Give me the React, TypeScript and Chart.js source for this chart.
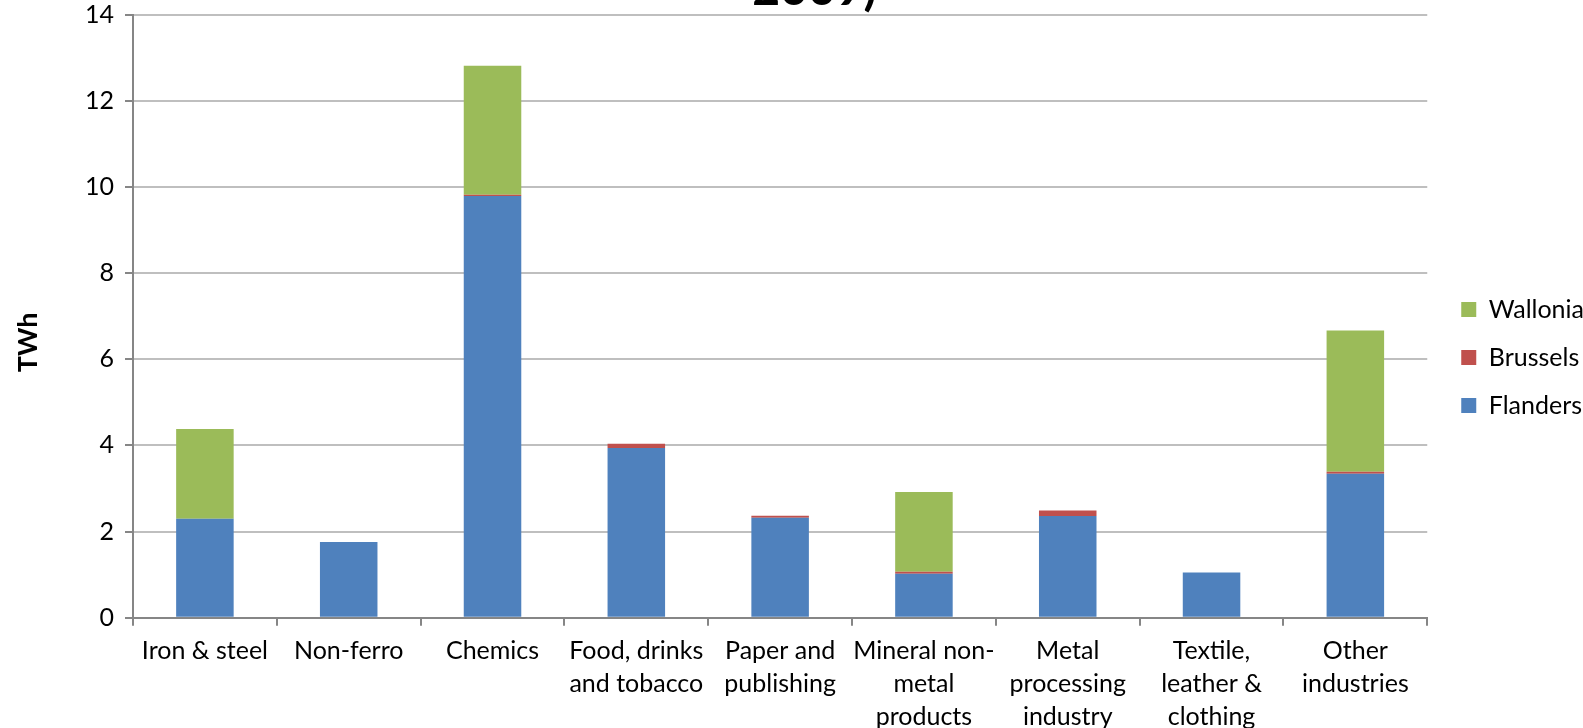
import React, { useEffect, useRef } from "react";
import { Chart, registerables } from "chart.js";

Chart.register(...registerables);

const categories: (string | string[])[] = [
  "Iron & steel",
  "Non-ferro",
  "Chemics",
  ["Food, drinks", "and tobacco"],
  ["Paper and", "publishing"],
  ["Mineral non-", "metal", "products"],
  ["Metal", "processing", "industry"],
  ["Textile,", "leather &", "clothing"],
  ["Other", "industries"],
];

const flanders = [2.3, 1.76, 9.79, 3.94, 2.32, 1.02, 2.36, 1.05, 3.34];
const brussels = [0, 0, 0.03, 0.1, 0.05, 0.05, 0.13, 0, 0.05];
const wallonia = [2.08, 0, 2.99, 0, 0, 1.85, 0, 0, 3.28];

const yTicks = [0, 2, 4, 6, 8, 10, 12, 14];

const titleText = "\u0020\u0020\u00202009)";
const yTitle = "TWh        ";

const FONT = "Lato";

export default function App() {
  const ref = useRef<HTMLCanvasElement | null>(null);

  useEffect(() => {
    if (!ref.current) return;
    const chart = new Chart(ref.current, {
      type: "bar",
      data: {
        labels: categories,
        datasets: [
          { label: "Flanders", data: flanders, backgroundColor: "#4F81BD", borderWidth: 0 },
          { label: "Brussels", data: brussels, backgroundColor: "#C0504D", borderWidth: 0 },
          { label: "Wallonia", data: wallonia, backgroundColor: "#9BBB59", borderWidth: 0 },
        ],
      },
      options: {
        responsive: false,
        animation: false,
        devicePixelRatio: 1,
        layout: { padding: { left: 0, right: -11, top: 0, bottom: 0 } },
        datasets: { bar: { barPercentage: 0.4, categoryPercentage: 1.0 } },
        plugins: {
          tooltip: { enabled: false },
          title: {
            display: true,
            text: titleText,
            color: "#000",
            font: { family: FONT, size: 48, weight: "bold", lineHeight: 1.0333 },
            padding: { top: 8, bottom: 0 },
          },
          legend: {
            display: true,
            position: "right",
            reverse: true,
            title: { display: true, text: " ", font: { size: 16, lineHeight: 1 }, padding: 0 },
            labels: {
              boxWidth: 15,
              boxHeight: 15,
              padding: 23,
              color: "#000",
              font: { family: FONT, size: 25 },
            },
          },
        },
        scales: {
          x: {
            stacked: true,
            grid: {
              display: true,
              drawOnChartArea: false,
              drawTicks: true,
              offset: true,
              tickLength: 8,
              color: "#868686",
              lineWidth: 2,
            },
            border: { display: true, color: "#868686", width: 2 },
            ticks: {
              autoSkip: false,
              maxRotation: 0,
              minRotation: 0,
              padding: 9,
              color: "#000",
              font: { family: FONT, size: 25, lineHeight: 1.31 },
            },
          },
          y: {
            stacked: true,
            min: 0,
            max: 14,
            afterFit: (s: any) => {
              s.width = 133;
            },
            afterBuildTicks: (s: any) => {
              s.ticks = yTicks.map((v) => ({ value: v }));
            },
            grid: {
              color: "#BFBFBF",
              lineWidth: 2,
              tickLength: 8,
              tickColor: "#868686",
              tickWidth: 2,
            },
            border: { display: true, color: "#868686", width: 2 },
            ticks: {
              padding: 11,
              color: "#000",
              font: { family: FONT, size: 25 },
            },
            title: {
              display: true,
              text: yTitle,
              color: "#000",
              font: { family: FONT, size: 27, weight: "bold", lineHeight: 1.2 },
              padding: { top: 12, bottom: 0 },
            },
          },
          gap: {
            type: "linear",
            position: "right",
            display: true,
            afterFit: (s: any) => {
              s.width = 11;
            },
            grid: { display: false },
            border: { display: false },
            ticks: { display: false },
          },
        },
      } as any,
    });
    return () => chart.destroy();
  }, []);

  return (
    <div
      style={{
        position: "fixed",
        top: 0,
        left: 0,
        width: 1583,
        height: 728,
        overflow: "hidden",
        background: "#fff",
      }}
    >
      <canvas
        ref={ref}
        width={1583}
        height={785}
        style={{ position: "absolute", top: -43, left: 0, width: 1583, height: 785 }}
      />
    </div>
  );
}
